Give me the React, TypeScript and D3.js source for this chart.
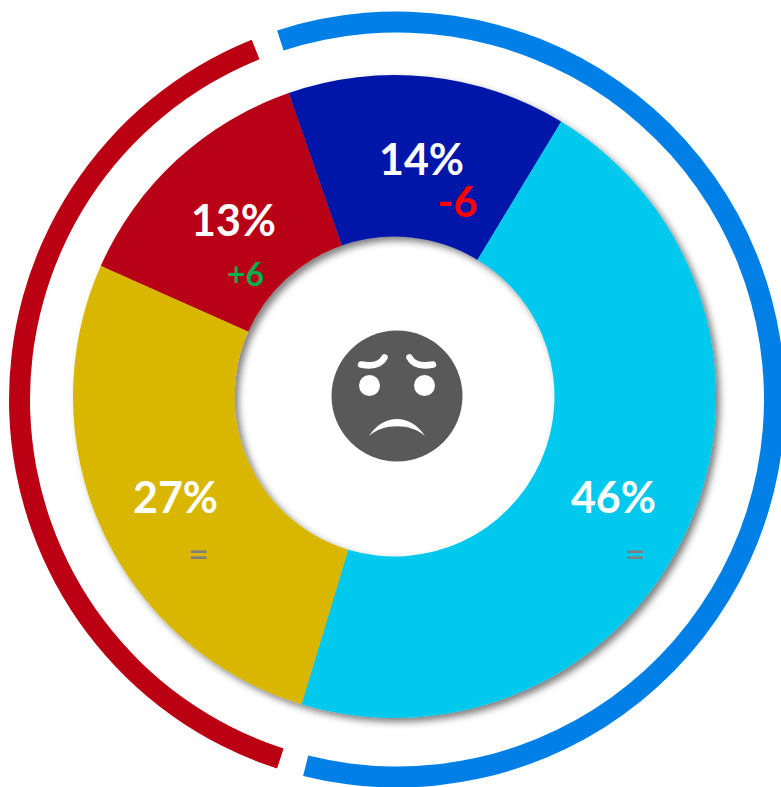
import React from 'react';
import * as d3 from 'd3';

const categories = ['Cyan', 'Yellow', 'Red', 'Blue'];
const shares = [46, 27, 13, 14];
const changes = ['=', '=', '+6', '-6'];
const ringGroups = ['Blue side', 'Red side'];
const ringShares = [60, 40];

const WIDTH = 781;
const HEIGHT = 787;
const FONT = 'Lato, sans-serif';

const sliceColor = d3.scaleOrdinal<string, string>().domain(categories)
  .range(['#00C9ED', '#D9B700', '#B80014', '#0016A8']);
const ringColor = d3.scaleOrdinal<string, string>().domain(ringGroups)
  .range(['#0080E6', '#BA0012']);
const changeColor = (c: string) => (c === '-6' ? '#FF0000' : c === '+6' ? '#00B050' : '#7F7F7F');

const rad = (deg: number) => (deg * Math.PI) / 180;

// label placement per slice, relative to the pie centre
const labelPos = [
  { x: 219, y: 116 },
  { x: -219, y: 116 },
  { x: -161, y: -161 },
  { x: 27, y: -222 },
];
const changePos = [
  { x: 241, y: 170 },
  { x: -196, y: 170 },
  { x: -149, y: -111 },
  { x: 63, y: -180 },
];
const changeSize = [36, 36, 32, 42];

const pie = d3.pie<number>().sort(null).startAngle(rad(31.2)).endAngle(rad(391.2));
const arc = d3.arc<d3.PieArcDatum<number>>().innerRadius(160).outerRadius(321.5);

const ringPie = d3.pie<number>().sort(null).startAngle(rad(-20)).endAngle(rad(340));
const RING_GAP = rad(2);
const ringArc = d3.arc<d3.PieArcDatum<number>>()
  .innerRadius(367)
  .outerRadius(388)
  .startAngle(d => d.startAngle + RING_GAP)
  .endAngle(d => d.endAngle - RING_GAP);

const Face: React.FC = () => (
  <g transform="translate(397,396)">
    <circle r={65.5} fill="#595959" />
    <circle cx={-27.5} cy={-10.5} r={10.5} fill="#fff" />
    <circle cx={27.5} cy={-10.5} r={10.5} fill="#fff" />
    <path d="M-36,-31.5 Q-18,-28 -12.5,-38.5" fill="none" stroke="#fff" strokeWidth={6.5} strokeLinecap="round" />
    <path d="M36,-31.5 Q18,-28 12.5,-38.5" fill="none" stroke="#fff" strokeWidth={6.5} strokeLinecap="round" />
    <path d="M-28,40 C-20,28 -10,23 0,23 C10,23 20,28 28,40 C14,27 -14,27 -28,40 Z" fill="#fff" />
  </g>
);

export default function App() {
  const slices = pie(shares);
  const ring = ringPie(ringShares);

  return (
    <svg
      width={WIDTH}
      height={HEIGHT}
      viewBox={`0 0 ${WIDTH} ${HEIGHT}`}
      style={{ position: 'absolute', left: 0, top: 0, background: '#fff' }}
    >
      <defs>
        <filter id="pieShadow" x="-10%" y="-10%" width="120%" height="120%">
          <feDropShadow dx={4} dy={4} stdDeviation={3.5} floodColor="#000" floodOpacity={0.5} />
        </filter>
      </defs>

      <g transform="translate(397,399.5)">
        {ring.map((d, i) => (
          <path key={ringGroups[i]} d={ringArc(d) ?? ''} fill={ringColor(ringGroups[i])} />
        ))}
      </g>

      <g transform="translate(394.5,396.5)">
        <g filter="url(#pieShadow)">
          {slices.map((d, i) => (
            <path key={categories[i]} d={arc(d) ?? ''} fill={sliceColor(categories[i])} />
          ))}
        </g>
        {slices.map((d, i) => (
          <g key={categories[i]} fontFamily={FONT} fontWeight={700} textAnchor="middle">
            <text x={labelPos[i].x} y={labelPos[i].y} fontSize={43} fill="#fff">
              {d.data}%
            </text>
            <text
              x={changePos[i].x}
              y={changePos[i].y}
              fontSize={changeSize[i]}
              fontWeight={changes[i] === '=' ? 400 : 700}
              fill={changeColor(changes[i])}
            >
              {changes[i]}
            </text>
          </g>
        ))}
      </g>

      <Face />
    </svg>
  );
}
